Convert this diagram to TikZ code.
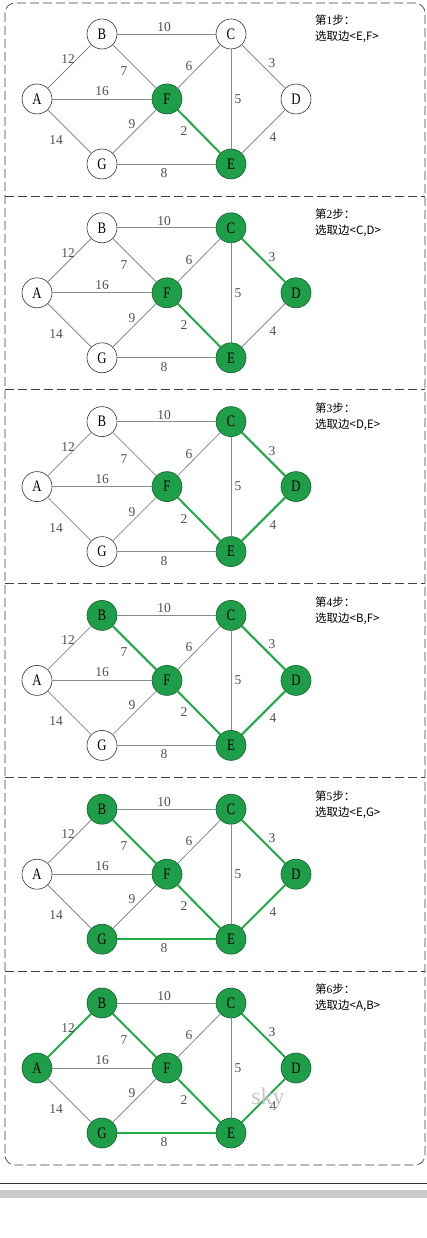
\documentclass[tikz,border=0pt]{standalone}
\usepackage{fontspec}
\setmainfont{Liberation Serif}
\newfontfamily\cjk{Noto Sans CJK SC}
\definecolor{gfill}{HTML}{1E9E48}
\definecolor{gdraw}{HTML}{14602C}
\definecolor{gline}{HTML}{22AA4A}
\definecolor{eline}{HTML}{8A8A8A}
\definecolor{lblc}{HTML}{505050}
\begin{document}
\begin{tikzpicture}[x=1pt,y=-1pt,
 vnode/.style={circle,draw=black!80,line width=0.6pt,fill=white,minimum size=30pt,inner sep=0pt,font=\fontsize{16}{16}\selectfont},
 gnode/.style={vnode,fill=gfill,draw=gdraw},
 plainedge/.style={draw=eline,line width=0.8pt},
 greenedge/.style={draw=gline,line width=2pt},
 wlbl/.style={text=lblc,font=\fontsize{13.5}{13.5}\selectfont,inner sep=0pt},
 note/.style={font=\cjk\fontsize{11.5}{16}\selectfont,align=left,anchor=north west,inner sep=0pt},
 frame/.style={draw=black!75,line width=0.7pt,dash pattern=on 9pt off 4pt}]
\useasboundingbox (0,0) rectangle (427,1238);
\fill[white] (0,0) rectangle (427,1238);
\draw[frame,rounded corners=10pt] (5,3) rectangle (425,1165);
\foreach \s in {196,389.5,583,777,971} \draw[frame] (5,\s) -- (425,\s);
\foreach \p/\grn/\gre/\edg in {1/{E,F}/{F/E}/{E,F},
  2/{C,D,E,F}/{F/E,C/D}/{C,D},
  3/{C,D,E,F}/{F/E,C/D,D/E}/{D,E},
  4/{B,C,D,E,F}/{F/E,C/D,D/E,B/F}/{B,F},
  5/{B,C,D,E,F,G}/{F/E,C/D,D/E,B/F,G/E}/{E,G},
  6/{A,B,C,D,E,F,G}/{F/E,C/D,D/E,B/F,G/E,A/B}/{A,B}}{
  \pgfmathsetmacro\oy{193.8*(\p-1)}
  \foreach \n/\x/\y in {A/37/99,B/102/34,C/231/34,D/296/99,E/231/164,F/167/99,G/102/164}{
    \gdef\nst{vnode}
    \foreach \g in \grn {\edef\tmpa{\n}\edef\tmpb{\g}\ifx\tmpa\tmpb\gdef\nst{gnode}\fi}
    \node[\nst] (\n\p) at (\x,\y+\oy) {\scalebox{0.8}[1]{\n}};
  }
  \foreach \a/\b/\w/\lx/\ly in {A/B/12/68/59, A/F/16/102/91, A/G/14/56/140, B/C/10/164/27, B/F/7/124/71, C/F/6/189/66, C/D/3/272/63, C/E/5/238/99, F/E/2/184/131, F/G/9/132/124, G/E/8/164/173, D/E/4/273/137}{
    \gdef\est{plainedge}
    \foreach \g in \gre {\edef\tmpa{\a/\b}\edef\tmpb{\g}\ifx\tmpa\tmpb\gdef\est{greenedge}\fi}
    \draw[\est] (\a\p) -- (\b\p);
    \node[wlbl] (w\a\b\p) at (\lx,\ly+\oy) {\w};
  }
  \node[note] (t\p) at (315,15+\oy) {第{\rmfamily\p}步：\\选取边<\edg>};
}
\node[text=black!22,font=\fontsize{24}{24}\selectfont,inner sep=0pt] (sky) at (268,1099) {sky};
\draw[black!80,line width=0.8pt] (0,1183) -- (427,1183);
\fill[black!20] (0,1190) rectangle (427,1198);
\end{tikzpicture}
\end{document}
